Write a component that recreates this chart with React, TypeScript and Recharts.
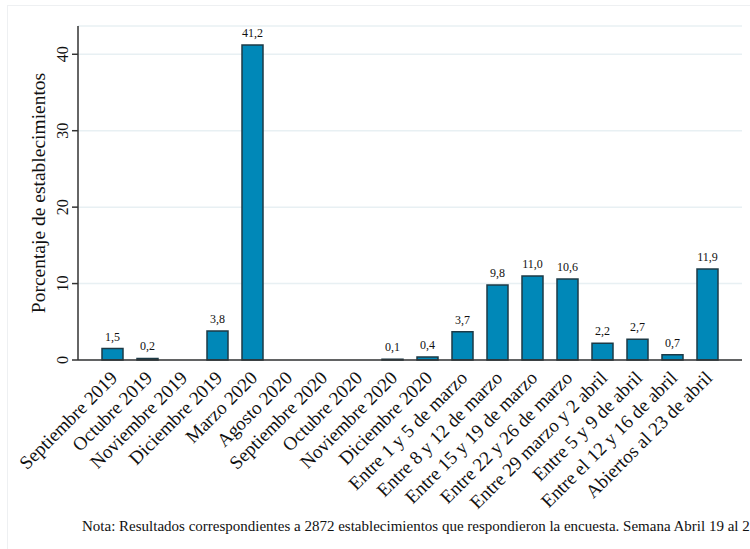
import React from 'react';
import { BarChart, Bar, XAxis, YAxis, CartesianGrid, LabelList } from 'recharts';

const categories = [
  'Septiembre 2019', 'Octubre 2019', 'Noviembre 2019', 'Diciembre 2019', 'Marzo 2020',
  'Agosto 2020', 'Septiembre 2020', 'Octubre 2020', 'Noviembre 2020', 'Diciembre 2020',
  'Entre 1 y 5 de marzo', 'Entre 8 y 12 de marzo', 'Entre 15 y 19 de marzo',
  'Entre 22 y 26 de marzo', 'Entre 29 marzo y 2 abril', 'Entre 5 y 9 de abril',
  'Entre el 12 y 16 de abril', 'Abiertos al 23 de abril',
];
const values: (number | null)[] = [
  1.5, 0.2, null, 3.8, 41.2, null, null, null, 0.1, 0.4,
  3.7, 9.8, 11.0, 10.6, 2.2, 2.7, 0.7, 11.9,
];
const yTicks = [0, 10, 20, 30, 40];
const yLabel = 'Porcentaje de establecimientos';
const note = 'Nota: Resultados correspondientes a 2872 establecimientos que respondieron la encuesta. Semana Abril 19 al 23';

const data = categories.map((c, i) => ({ name: c, value: values[i] }));
const FONT = '"Liberation Serif", "Times New Roman", serif';

const XTick = (props: any) => {
  const { x, y, payload } = props;
  const ax = x + 6;
  const ay = y + 11;
  return (
    <text x={ax} y={ay} textAnchor="end" fontFamily={FONT} fontSize={19} fill="#111"
      transform={`rotate(-45, ${ax}, ${ay})`}>{payload.value}</text>
  );
};

const YTick = (props: any) => {
  const { x, y, payload } = props;
  const ax = x - 2;
  return (
    <text x={ax} y={y} textAnchor="middle" fontFamily={FONT} fontSize={16} fill="#111"
      transform={`rotate(-90, ${ax}, ${y})`}>{payload.value}</text>
  );
};

const fmt = (v: any) => (v == null ? '' : Number(v).toFixed(1).replace('.', ','));

export default function App() {
  return (
    <div style={{ position: 'absolute', left: 0, top: 0, width: 750, height: 549, overflow: 'hidden', background: '#fff' }}>
      <div style={{ position: 'absolute', left: 7, top: 5, width: 760, height: 560, borderLeft: '1px solid #eef0f2', borderTop: '1px solid #eef0f2' }} />
      <BarChart width={750} height={549} data={data}
        margin={{ top: 26, right: 8, left: 0, bottom: 0 }} barSize={21}>
        <CartesianGrid horizontal vertical={false} stroke="#e8f0f3" strokeWidth={1.5} />
        <XAxis dataKey="name" interval={0} height={189} tickLine={false}
          padding={{ left: 17, right: 17 }} stroke="#333" strokeWidth={1.5} tick={<XTick />} />
        <YAxis width={78} domain={[0, 43.7]} ticks={yTicks} tickSize={6} stroke="#333"
          strokeWidth={1.5} tick={<YTick />}
          label={{ value: yLabel, angle: -90, position: 'insideLeft', offset: 0, dx: 38, style: { fontFamily: FONT, fontSize: 19.5, fill: '#111', textAnchor: 'middle' } }} />
        <Bar dataKey="value" fill="#0088B8" stroke="#1c3a46" strokeWidth={1.5} isAnimationActive={false}>
          <LabelList dataKey="value" position="top" offset={8} formatter={fmt}
            style={{ fontFamily: FONT, fontSize: 12, fill: '#111' }} />
        </Bar>
      </BarChart>
      <div style={{ position: 'absolute', left: 82, top: 518, whiteSpace: 'nowrap', fontFamily: FONT, fontSize: 15, color: '#111' }}>{note}</div>
    </div>
  );
}
